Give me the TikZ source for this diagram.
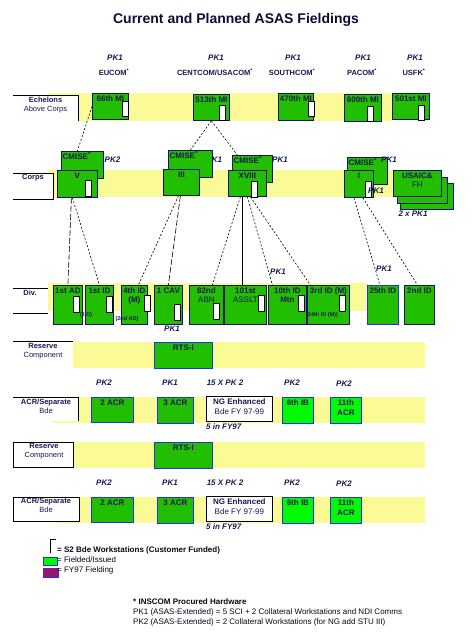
\documentclass[tikz,border=0pt]{standalone}
\usepackage{fontspec}
\setmainfont{Liberation Sans}
\usetikzlibrary{patterns}

\begin{document}
\begin{tikzpicture}[x=1pt,y=-1pt,
    txt/.style={text=navytext,inner sep=0pt,align=center},
    ttl/.style={txt,text=titlecol,font=\fontsize{14}{16}\selectfont\bfseries},
    cmdlbl/.style={txt,font=\fontsize{7.5}{9}\selectfont\bfseries},
    pklbl/.style={txt,font=\fontsize{8}{9}\selectfont\bfseries\itshape},
    rowlbl/.style={txt,font=\fontsize{7.5}{9}\selectfont},
    smalllbl/.style={txt,font=\fontsize{5.5}{6}\selectfont\bfseries},
    lblline/.style={draw=black,line width=0.9pt},
    unit/.style={draw=navyline,fill=unitgreen,line width=0.8pt,inner sep=0pt,anchor=north west},
    unitblue/.style={unit,draw=blueline},
    unitlite/.style={unit,draw=blueline,fill=litegreen},
    ngunit/.style={unit,draw=black,fill=white},
    unittxt/.style={txt,font=\fontsize{8}{9.5}\selectfont\bfseries,inner sep=2.5pt},
    wsbox/.style={draw=black,fill=white,line width=0.6pt,minimum width=5.5pt,minimum height=15.5pt,inner sep=0pt,anchor=north west},
    link/.style={line width=0.6pt,dash pattern=on 2pt off 1.8pt},
    linklong/.style={line width=0.6pt,dash pattern=on 6pt off 2pt},
    solidlink/.style={line width=0.7pt},
    legtxt/.style={txt,anchor=west,text=black!75!navytext,font=\fontsize{8}{9}\selectfont},
]

\definecolor{navytext}{RGB}{24,24,84}   \definecolor{titlecol}{RGB}{12,12,52}
\definecolor{navyline}{RGB}{20,20,110}  \definecolor{blueline}{RGB}{30,50,235}
\definecolor{unitgreen}{RGB}{34,190,0}  \definecolor{litegreen}{RGB}{0,250,0}
\definecolor{bandyellow}{RGB}{250,250,150}

\useasboundingbox (0,0) rectangle (474,639);

% ---------- green unit box with its name on top ----------
\def\unitbox#1#2#3#4#5#6#7{%
  \node[#2,minimum width=#5pt,minimum height=#6pt] (#1) at (#3,#4) {};
  \node[unittxt,anchor=north] (#1-t) at (#1.north) {#7};
}

% ---------- title and commands ----------
\node[ttl] (title) at (236,20) {Current and Planned ASAS Fieldings};
\foreach \n/\x/\cmd in {eucom/114/EUCOM, centcom/215/{CENTCOM/USACOM}, southcom/292/SOUTHCOM, pacom/362/PACOM, usfk/414/USFK}{
  \node[pklbl] (pk-\n) at (\x+1,58) {PK1};
  \node[cmdlbl] (cmd-\n) at (\x,72) {\cmd\textsuperscript{*}};
}

% ---------- yellow bands ----------
\fill[bandyellow] (48,93) rectangle (392,121);
\fill[bandyellow] (48,170) rectangle (393,197);
\fill[bandyellow] (48,283) rectangle (368,311);
\foreach \dy in {0,100}{
  \fill[bandyellow] (73,342+\dy) rectangle (425,368+\dy);
  \fill[bandyellow] (53,397+\dy) rectangle (425,423+\dy);
}

% ---------- row labels on the left ----------
\fill[white] (13,95) rectangle (78,121);
\draw[lblline] (13,95) -- (78,95) -- (78,121);
\node[rowlbl] (l-ech) at (45.5,105) {\textbf{Echelons}\\Above Corps};

\fill[white] (13,173) rectangle (53,199);
\draw[lblline] (13,173) -- (53,173) -- (53,199) -- (13,199);
\node[rowlbl,font=\fontsize{7.5}{9}\selectfont\bfseries] (l-corps) at (33,178) {Corps};

\draw[lblline] (13,288) -- (48,288) (13,313) -- (48,313);
\node[rowlbl,font=\fontsize{7.5}{9}\selectfont\bfseries] (l-div) at (30,293) {Div.};

\draw[lblline] (13,341) -- (73,341);
\node[rowlbl] (l-res1) at (43,351) {\textbf{Reserve}\\Component};

\fill[white] (13,397) rectangle (78,421);
\draw[lblline] (13,397) -- (78,397) -- (78,421);
\node[rowlbl] (l-acr1) at (46,406) {\textbf{ACR/Separate}\\Bde};

\draw[lblline,fill=white] (13,442) rectangle (73,467);
\node[rowlbl] (l-res2) at (44,451) {\textbf{Reserve}\\Component};

\draw[lblline,fill=white] (13,497) rectangle (79,521);
\node[rowlbl] (l-acr2) at (46,505) {\textbf{ACR/Separate}\\Bde};

% ---------- echelons above corps ----------
\unitbox{e66}{unit}{92}{93}{36}{26}{66th MI}
\unitbox{e513}{unit}{193}{94}{36}{26}{513th MI}
\unitbox{e470}{unit}{278}{93}{35}{27}{470th MI}
\unitbox{e600}{unit}{344}{94}{37}{27}{600th MI}
\unitbox{e501}{unit}{392}{93}{37}{26}{501st MI}

% ---------- corps ----------
\foreach \n/\x/\y/\w in {cmV/61/151/42, cmIII/168/150/44, cmXVIII/232/155/40, cmI/347/157/40}{
  \node[unit,minimum width=\w pt,minimum height=27pt] (\n) at (\x,\y) {};
  \node[unittxt,anchor=north west,inner sep=1.5pt] (\n-t) at (\n.north west) {CMISE\textsuperscript{*}};
}
\node[pklbl] (pk-cmV) at (112.5,160) {PK2};
\node[pklbl] (pk-cmIII) at (217,160) {K1};
\node[pklbl] (pk-cmXVIII) at (280,160) {PK1};
\node[pklbl] (pk-cmI) at (389,160) {PK1};

\unitbox{cV}{unit}{57}{170}{40}{27}{V}
\unitbox{cIII}{unit}{163}{169}{36}{26}{III}
\unitbox{cXVIII}{unit}{228}{170}{38}{26}{XVIII}
\unitbox{cI}{unit}{344}{170}{29}{27}{I}

\node[unit,minimum width=53pt,minimum height=26pt] (usaic-3) at (400,183) {};
\node[unit,minimum width=50pt,minimum height=26pt] (usaic-2) at (397,177) {};
\unitbox{usaic}{unit}{393}{170}{48}{26}{USAIC\&\\{\mdseries FH}}
\node[pklbl] (pk-usaic) at (413,214) {2 x PK1};

% ---------- divisions ----------
\unitbox{dAD1}{unit}{53}{285}{29}{39}{1st AD}
\unitbox{d1ID}{unit}{85}{285}{28}{39}{1st ID}
\unitbox{d4ID}{unit}{121}{285}{26}{39}{4th ID\\(M)}
\unitbox{dCAV}{unit}{154}{285}{28}{39}{1 CAV}
\unitbox{d82}{unit}{189}{285}{34}{39}{82nd\\{\mdseries ABN}}
\unitbox{d101}{unit}{224}{285}{42}{39}{101st\\{\mdseries ASSLT}}
\unitbox{d10}{unit}{268}{285}{38}{39}{10th ID\\Mtn}
\unitbox{d3}{unit}{307}{285}{42}{39}{3rd ID (M)}
\unitbox{d25}{unitblue}{367}{285}{31}{39}{25th ID}
\unitbox{d2}{unit}{404}{285}{30}{39}{2nd ID}

\node[smalllbl] (s-3id) at (86,315) {(3ID)};
\node[smalllbl] (s-2ad) at (127,319) {(2nd AD)};
\node[smalllbl] (s-24id) at (322,315) {(24th ID (M))};
\node[pklbl] (pk-cav) at (172,329) {PK1};
\node[pklbl] (pk-d10) at (278,272) {PK1};
\node[pklbl] (pk-d25) at (384,269) {PK1};

% ---------- S2 Bde workstations ----------
\foreach \n/\x/\y in {e66/122/101, e513/219/105, e470/308/101, e600/367/106, e501/418/105,
    cV/85/180, cXVIII/251/181, cI/365/181,
    dAD1/73/296, d1ID/106/296, d4ID/144/295, dCAV/174/304, d82/213/303, d101/258/295, d10/298/295, d3/339/295}
  \node[wsbox] (ws-\n) at (\x,\y) {};
\node[pklbl] (pk-cI) at (376,191) {PK1};

% ---------- links ----------
\draw[link] (e66.west) -- ([xshift=-5pt]cmV.north);
\draw[link] (e513.south) -- (cmIII.north);
\draw[link] (e513.south) -- ([xshift=-15pt]cmXVIII.north);
\draw[linklong] ([xshift=-6pt]cV.south) -- (dAD1.north);
\draw[link] ([xshift=-5pt]cV.south) -- (d1ID.north);
\draw[link] ([xshift=-3pt]cIII.south) -- ([xshift=4pt]d4ID.north);
\draw[linklong] ([xshift=-1pt]cIII.south) -- (dCAV.north);
\draw[link] ([xshift=-7pt]cXVIII.south) -- ([xshift=6pt]d82.north);
\draw[solidlink] ([xshift=-5pt]cXVIII.south) -- ([xshift=-3pt]d101.north);
\draw[link] (cXVIII.south) -- ([xshift=-15pt]d10.north);
\draw[link] ([xshift=3pt]cXVIII.south) -- ([xshift=-18pt]d3.north);
\draw[link] ([xshift=-5pt]cI.south) -- ([xshift=-3pt]d25.north);
\draw[link] ([xshift=4pt]cI.south) -- ([xshift=-2pt]d2.north);

% ---------- reserve and ACR / separate brigades ----------
\foreach \r/\dy in {a/0,b/100}{
  \unitbox{rts\r}{unitblue}{154}{342+\dy}{58}{26}{RTS-I}
  \unitbox{acr2\r}{unitblue}{91}{397+\dy}{42}{25}{2 ACR}
  \unitbox{acr3\r}{unitblue}{157}{397+\dy}{36}{26}{3 ACR}
  \unitbox{ng\r}{ngunit}{206}{396+\dy}{66}{25}{NG Enhanced\\{\mdseries Bde FY 97-99}}
  \unitbox{ib6\r}{unitlite}{282}{397+\dy}{31}{26}{6th IB}
  \unitbox{acr11\r}{unitlite}{330}{397+\dy}{31}{26}{11th\\ACR}
  \node[pklbl] (pk2-\r) at (104,383+\dy) {PK2};
  \node[pklbl] (pk1-\r) at (170,383+\dy) {PK1};
  \node[pklbl] (pk15-\r) at (225,383+\dy) {15 X PK 2};
  \node[pklbl] (pk6-\r) at (292,383+\dy) {PK2};
  \node[pklbl] (pk11-\r) at (344,384+\dy) {PK2};
  \node[pklbl,anchor=west] (fy-\r) at (206,427+\dy) {5 in FY97};
}

% ---------- legend ----------
\draw[lblline,line width=0.8pt] (50,553) |- (56,539);
\node[legtxt] (leg-ws) at (57,550) {\textbf{= S2 Bde Workstations (Customer Funded)}};
\node[unitlite,minimum width=14pt,minimum height=8pt] (leg-green) at (43,557) {};
\node[legtxt] (leg-fielded) at (57,560) {= Fielded/Issued};
\node[unit,draw=blueline,fill=blueline,postaction={pattern=crosshatch,pattern color=red},minimum width=15pt,minimum height=8.5pt] (leg-hatch) at (43,568) {};
\node[legtxt] (leg-fy97) at (57,570) {= FY97 Fielding};

\node[legtxt,anchor=north west,align=left,font=\fontsize{8}{10}\selectfont] (note) at (133,598.5)
  {\textbf{* INSCOM Procured Hardware}\\
   PK1 (ASAS-Extended) = 5 SCI + 2 Collateral Workstations and NDI Comms\\
   PK2 (ASAS-Extended) = 2 Collateral Workstations (for NG add STU III)};

\end{tikzpicture}
\end{document}
